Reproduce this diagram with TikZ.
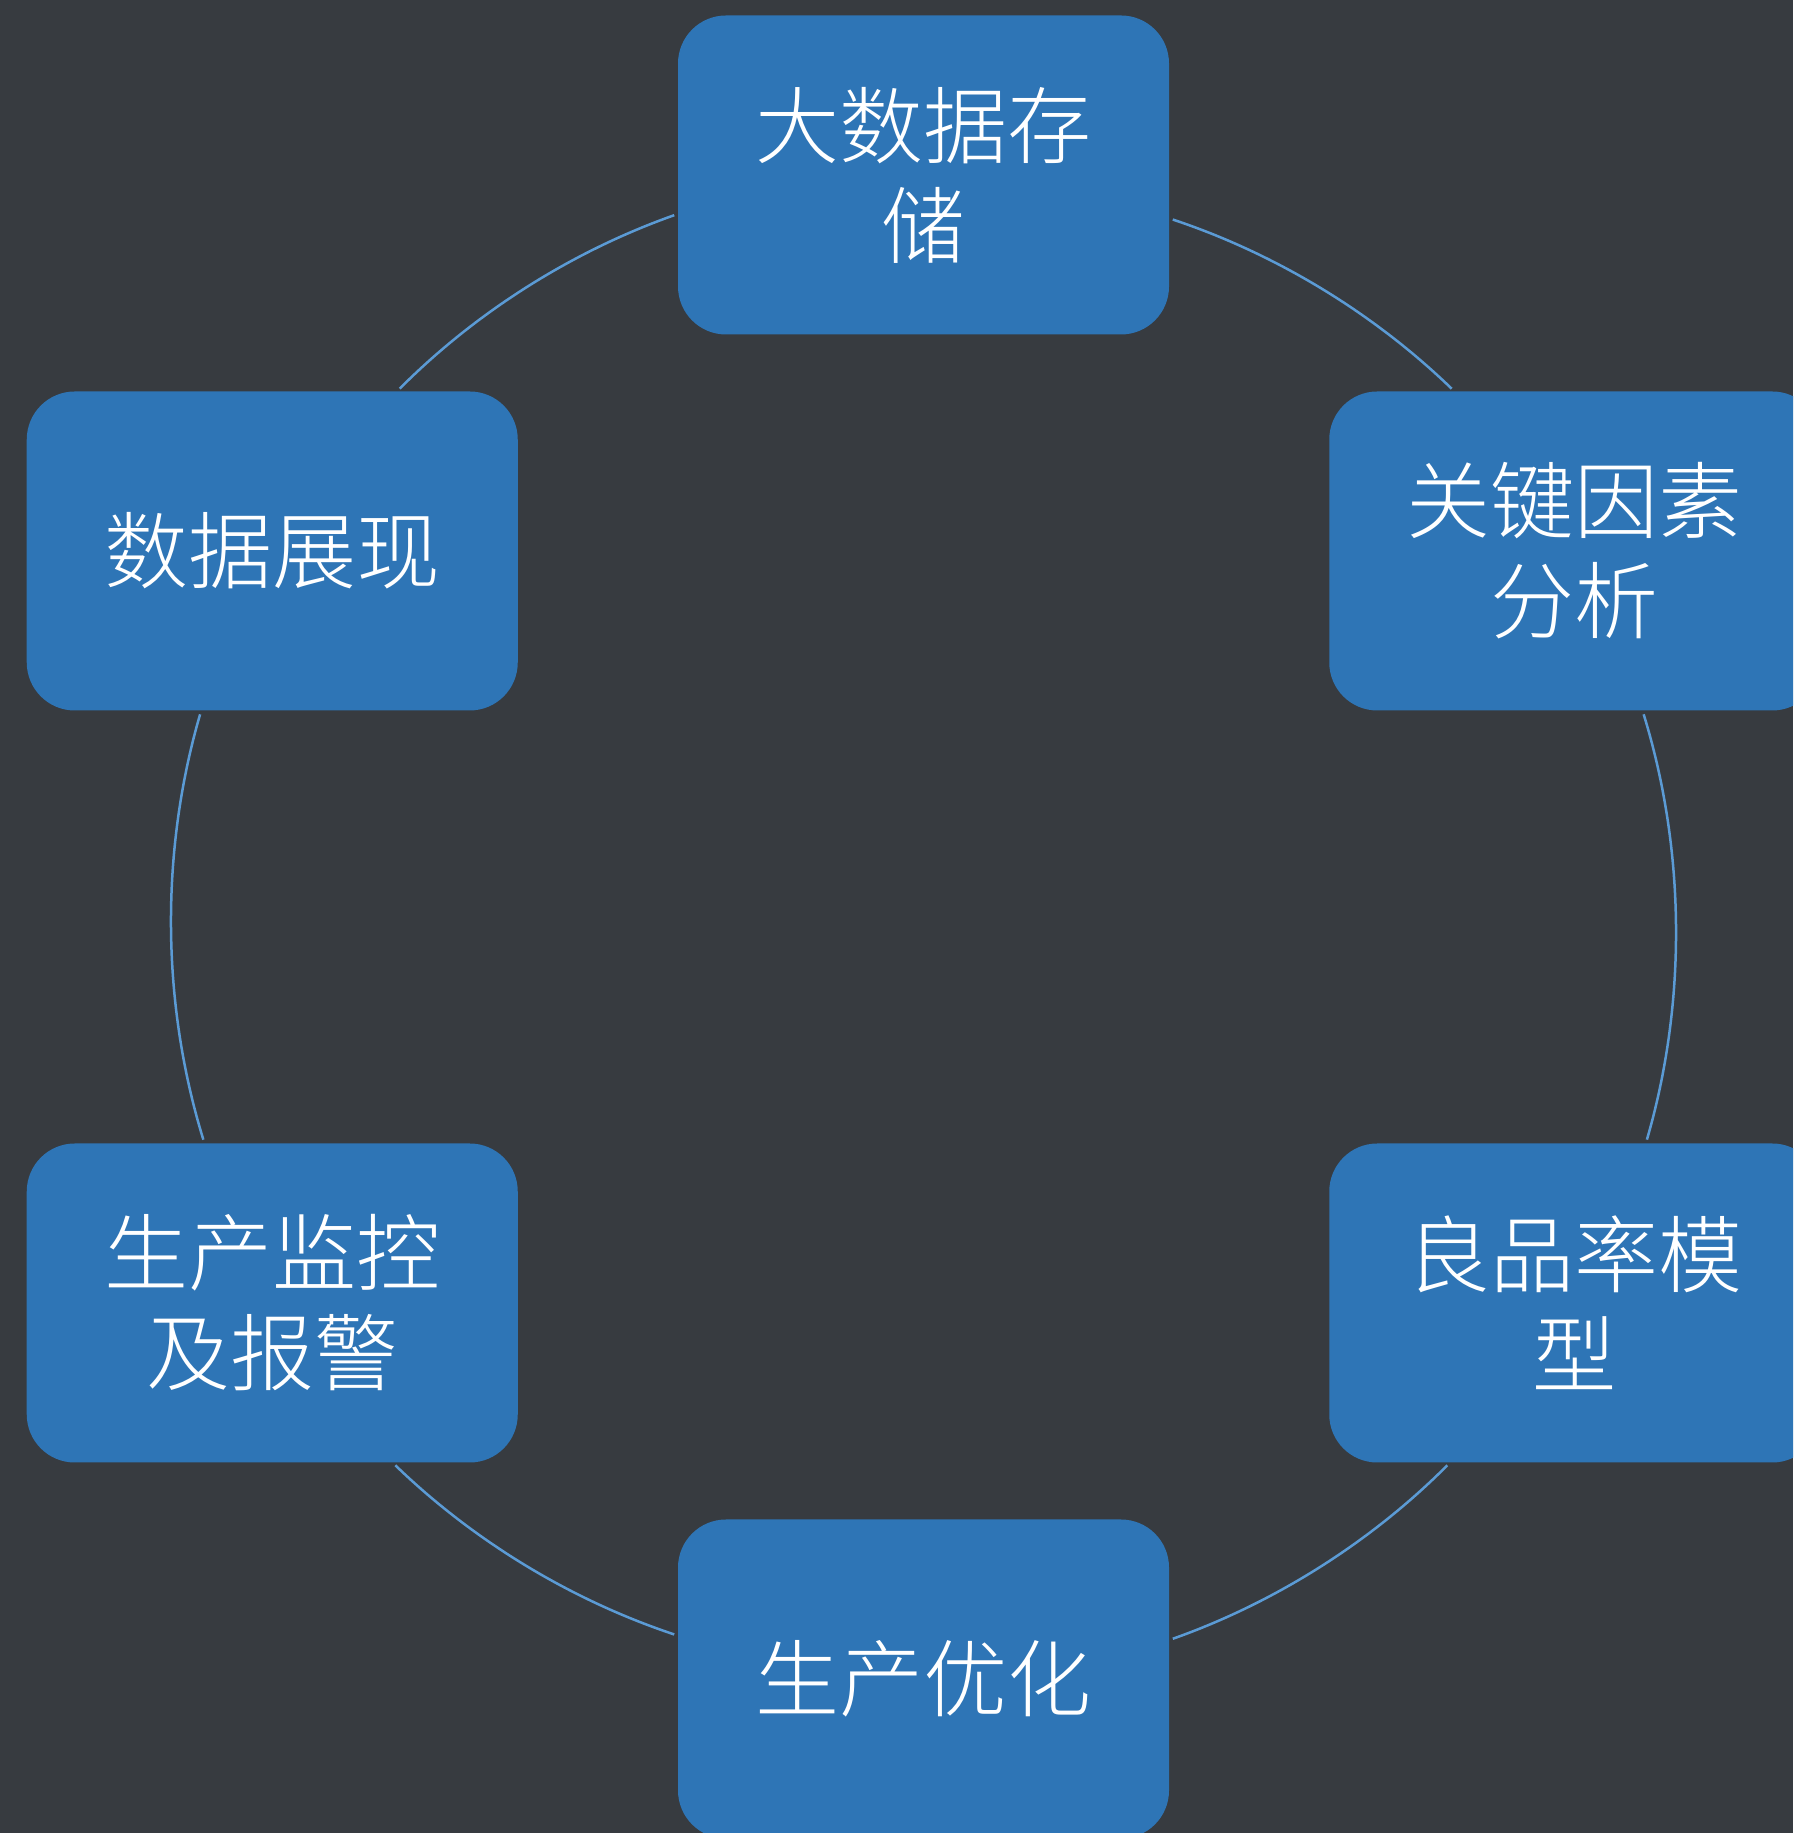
\documentclass[tikz,border=0pt]{standalone}
\usepackage{fontspec}
\usepackage{tikz}
\newfontfamily\cjk{Noto Sans CJK SC Light}

\definecolor{bgdark}{HTML}{373B40}
\definecolor{boxblue}{HTML}{2E75B6}
\definecolor{ringblue}{HTML}{5B9BD5}

\begin{document}
\begin{tikzpicture}[x=1pt, y=1pt,
        stage/.style={rectangle, rounded corners=48pt, fill=boxblue, outer sep=0pt, inner sep=0pt,
            minimum width=491pt, minimum height=319pt, align=center, text=white,
            font={\cjk\fontsize{84}{100}\selectfont}},
        ring/.style={draw=ringblue, line width=2.5pt, shorten <=4pt, shorten >=4pt, looseness=0.865}]
        \useasboundingbox (0,0) rectangle (1793,1833);
        \fill[bgdark] (0,0) rectangle (1793,1833);
        \clip (0,0) rectangle (1793,1833);

        \begin{scope}[shift={(923.5,906)}]
        \node[stage] (store) at (90:752) {大数据存\\储};
        \node[stage] (factor) at (30:752) {关键因素\\分析};
        \node[stage] (model) at (-30:752) {良品率模\\型};
        \node[stage] (optim) at (-90:752) {生产优化};
        \node[stage] (monitor) at (210:752) {生产监控\\及报警};
        \node[stage] (show) at (150:752) {数据展现};
        \end{scope}

        \draw[ring] (store.189.5) to[bend right=12.8] (show.52.3);
        \draw[ring] (show.246.6) to[bend right=16.7] (monitor.113.4);
        \draw[ring] (monitor.307.7) to[bend right=12.8] (optim.170.5);
        \draw[ring] (optim.9.5) to[bend right=12.8] (model.232.3);
        \draw[ring] (model.66.6) to[bend right=16.7] (factor.293.4);
        \draw[ring] (factor.127.7) to[bend right=12.8] (store.350.5);
    \end{tikzpicture}
\end{document}
